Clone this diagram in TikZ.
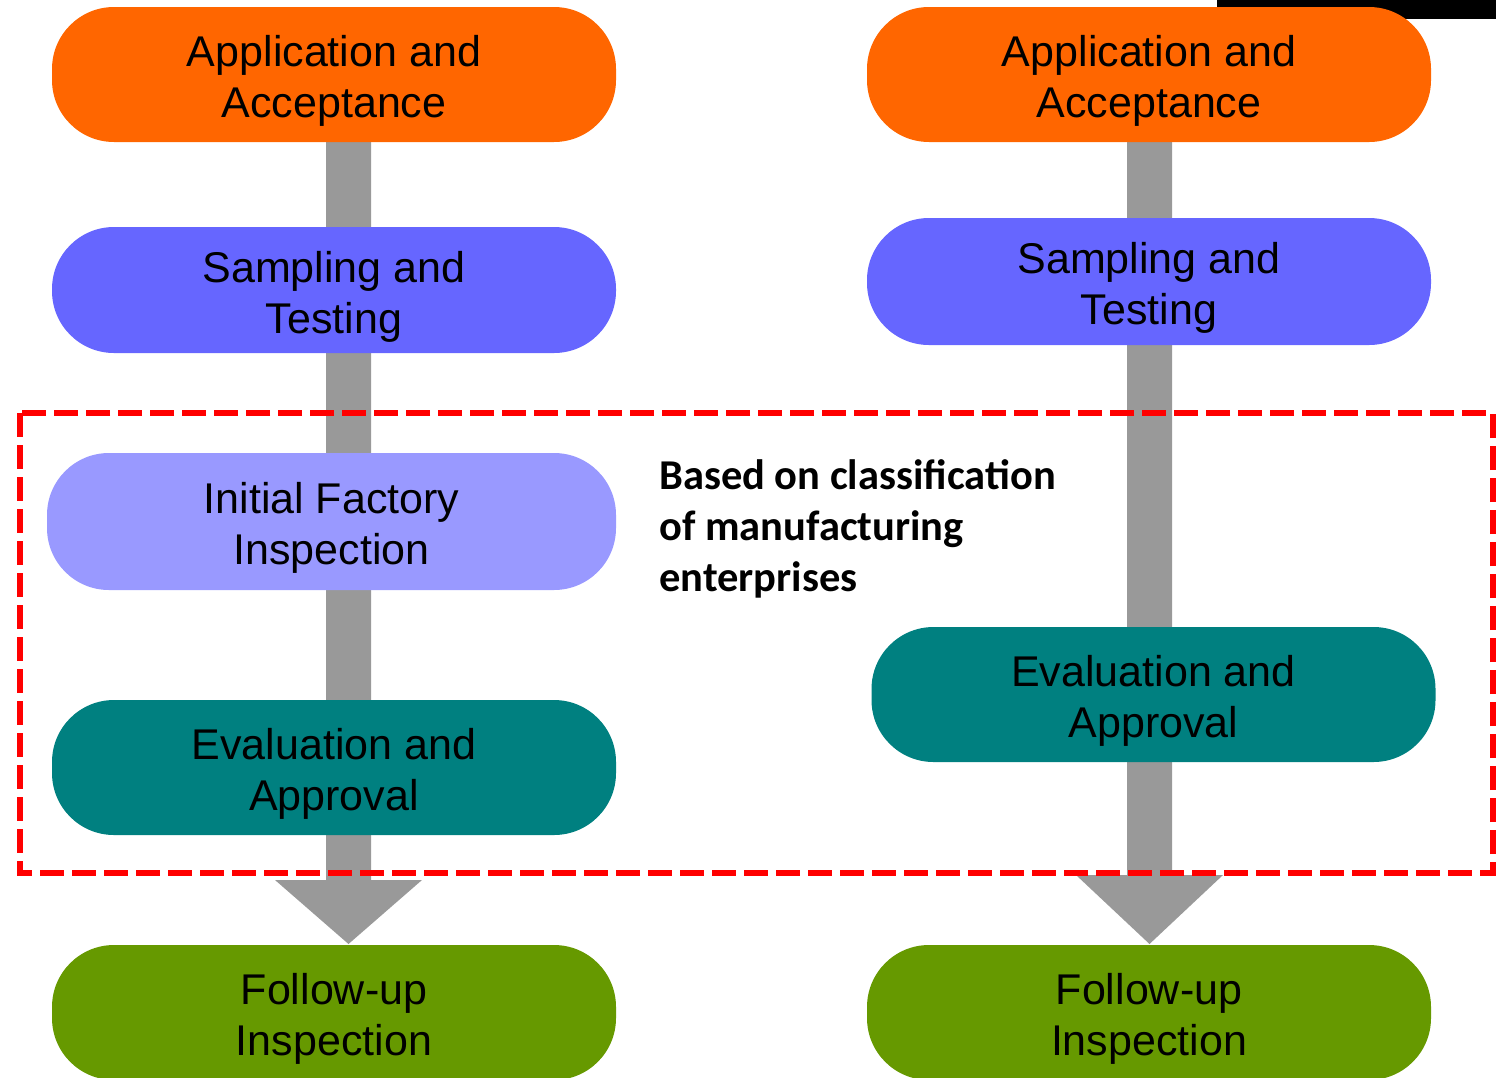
\documentclass[tikz,border=0pt]{standalone}
\usepackage{fontspec}
\setmainfont{Liberation Sans}
\newfontfamily\boldcal{Carlito}
\usetikzlibrary{calc}
\definecolor{cOrange}{HTML}{FF6600}
\definecolor{cBlue}{HTML}{6666FF}
\definecolor{cLilac}{HTML}{9999FF}
\definecolor{cTeal}{HTML}{008080}
\definecolor{cGreen}{HTML}{669900}
\definecolor{cGray}{HTML}{999999}
\definecolor{cRed}{HTML}{FF0000}
\newcommand\tallstrut{\rule{0pt}{44pt}}
\begin{document}
\begin{tikzpicture}[x=1pt,y=-1pt,
  stage/.style={rectangle, rounded corners=62pt, minimum width=564pt, minimum height=135pt,
    inner sep=0pt, align=center, text=black, font=\fontsize{43}{51}\selectfont},
  blockarrow/.style={fill=cGray},
  zone/.style={draw=cRed, line width=6pt, dash pattern=on 24pt off 8pt},
  note/.style={inner sep=0pt, align=left, anchor=north west, font=\boldcal\bfseries\fontsize{42.5}{51}\selectfont}]
\useasboundingbox (0,0) rectangle (1496,1077);
\fill[black] (1217,0) rectangle (1496,19);
% arrows
\coordinate (tL) at (348.5,74);
\coordinate (hL) at (348.5,880);
\coordinate (pL) at (348.5,944);
\coordinate (tR) at (1149.5,74);
\coordinate (hR) at (1149.5,875);
\coordinate (pR) at (1149.5,944);
\fill[blockarrow] ($(tL)+(-22.5,0)$) -- ($(tL)+(22.5,0)$) -- ($(hL)+(22.5,0)$) -- ($(hL)+(73.5,0)$) -- (pL) -- ($(hL)+(-73.5,0)$) -- ($(hL)+(-22.5,0)$) -- cycle;
\fill[blockarrow] ($(tR)+(-22.5,0)$) -- ($(tR)+(22.5,0)$) -- ($(hR)+(22.5,0)$) -- ($(hR)+(73.5,0)$) -- (pR) -- ($(hR)+(-73.5,0)$) -- ($(hR)+(-22.5,0)$) -- cycle;
% left column
\node[stage, fill=cOrange] (oL) at (334,74.5) {\tallstrut Application and\\Acceptance};
\node[stage, fill=cBlue, minimum height=126pt] (bL) at (334,290) {\tallstrut Sampling and\\Testing};
\node[stage, fill=cLilac, minimum width=569pt, minimum height=137pt] (iL) at (331.5,521.5) {\tallstrut Initial Factory\\Inspection};
\node[stage, fill=cTeal] (eL) at (334,767.5) {\tallstrut Evaluation and\\Approval};
\node[stage, fill=cGreen] (gL) at (334,1012.5) {\tallstrut Follow-up\\Inspection};
% right column
\node[stage, fill=cOrange] (oR) at (1149,74.5) {\tallstrut Application and\\Acceptance};
\node[stage, fill=cBlue, minimum height=127pt] (bR) at (1149,281.5) {\tallstrut Sampling and\\Testing};
\node[stage, fill=cTeal] (eR) at (1153.5,694.5) {\tallstrut Evaluation and\\Approval};
\node[stage, fill=cGreen] (gR) at (1149,1012.5) {\tallstrut Follow-up\\Inspection};
% note
\node[note] (nt) at (659,459) {Based on classification\\of manufacturing\\enterprises};
% dashed zone
\draw[zone] (20,413) rectangle (1493,873);
\end{tikzpicture}
\end{document}
